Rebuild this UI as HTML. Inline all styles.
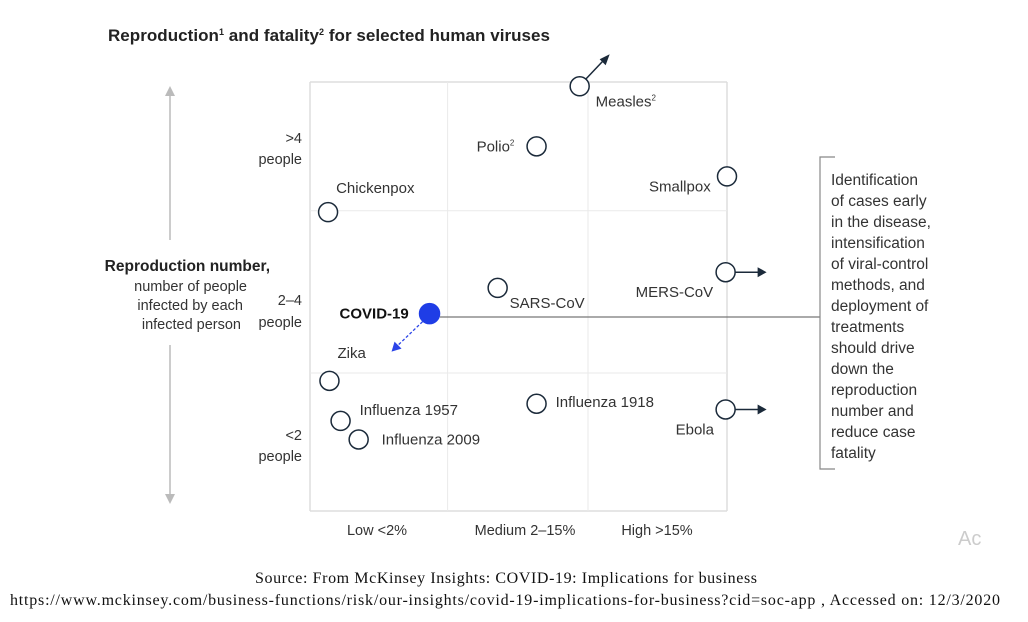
<!DOCTYPE html>
<html><head><meta charset="utf-8"><style>
body{margin:0;background:#fff;width:1028px;height:617px;overflow:hidden}
svg text{font-family:"Liberation Sans",sans-serif}
svg text.serif{font-family:"Liberation Serif",serif}
</style></head><body>
<svg width="1028" height="617">
<text x="108" y="41" font-size="17" font-weight="bold" fill="#222" textLength="442">Reproduction<tspan font-size="9" dy="-6">1</tspan><tspan dy="6"> and fatality</tspan><tspan font-size="9" dy="-6">2</tspan><tspan dy="6"> for selected human viruses</tspan></text>
<g id="grid"></g>
<line x1="170" y1="95" x2="170" y2="240" stroke="#bbb" stroke-width="1.5"/>
<polygon points="165,96 175,96 170,86" fill="#bbb"/>
<line x1="170" y1="345" x2="170" y2="495" stroke="#bbb" stroke-width="1.5"/>
<polygon points="165,494 175,494 170,504" fill="#bbb"/>
<g font-size="14.5" fill="#333" text-anchor="end">
<text x="270" y="271" font-weight="bold" fill="#222" font-size="15.5">Reproduction number,</text>
<text x="247" y="291">number of people</text>
<text x="243" y="310">infected by each</text>
<text x="241" y="329">infected person</text>
</g>
<g font-size="14.5" fill="#333" text-anchor="end">
<text x="302" y="143">&gt;4</text><text x="302" y="164">people</text>
<text x="302" y="305">2–4</text><text x="302" y="327">people</text>
<text x="302" y="440">&lt;2</text><text x="302" y="461">people</text>
</g>
<g font-size="14.5" fill="#333" text-anchor="middle">
<text x="377" y="535">Low &lt;2%</text><text x="525" y="535">Medium 2–15%</text><text x="657" y="535">High &gt;15%</text>
</g>
<line x1="440" y1="317" x2="820" y2="317" stroke="#777" stroke-width="1.3"/>
<polyline points="835,157 820,157 820,469 835,469" fill="none" stroke="#888" stroke-width="1.2"/>
<g font-size="15.5" fill="#333">
<text x="831" y="185">Identification</text><text x="831" y="206">of cases early</text><text x="831" y="227">in the disease,</text><text x="831" y="248">intensification</text><text x="831" y="269">of viral-control</text><text x="831" y="290">methods, and</text><text x="831" y="311">deployment of</text><text x="831" y="332">treatments</text><text x="831" y="353">should drive</text><text x="831" y="374">down the</text><text x="831" y="395">reproduction</text><text x="831" y="416">number and</text><text x="831" y="437">reduce case</text><text x="831" y="458">fatality</text>
</g>
<g id="marks"></g>
<text x="958" y="545" font-size="20" fill="#ccc">Ac</text>
<g font-size="16" fill="#111">
<text class="serif" x="255" y="583" textLength="502">Source: From McKinsey Insights: COVID-19: Implications for business</text>
<text class="serif" x="10" y="605" textLength="990">https://www.mckinsey.com/business-functions/risk/our-insights/covid-19-implications-for-business?cid=soc-app , Accessed on: 12/3/2020</text>
</g>
</svg>
<script>
const names=["Measles","Polio","Smallpox","Chickenpox","MERS-CoV","SARS-CoV","COVID-19","Zika","Influenza 1957","Influenza 2009","Influenza 1918","Ebola"];
const fatality=[1.94,1.63,3.0,0.13,2.99,1.35,0.86,0.14,0.22,0.35,1.63,2.99];
const reproduction=[2.97,2.55,2.34,2.09,1.67,1.56,1.38,0.91,0.63,0.50,0.75,0.71];
const labelDx=[16,-60,-78,8,-90,12,-90,8,19,23,19,-50];
const labelDy=[20,5,15,-19,25,20,5,-23,-6,5,3,25];
const arrows=["ne","","","","e","","sw","","","","","e"];
const X0=310,X1=727,Y0=511,Y1=82;
const xs=v=>X0+(X1-X0)*v/3, ys=v=>Y0-(Y0-Y1)*v/3;
const NS="http://www.w3.org/2000/svg";
const grid=document.getElementById('grid');
function ln(p,x1,y1,x2,y2,c,w,dash){const l=document.createElementNS(NS,'line');l.setAttribute('x1',x1);l.setAttribute('y1',y1);l.setAttribute('x2',x2);l.setAttribute('y2',y2);l.setAttribute('stroke',c);l.setAttribute('stroke-width',w);if(dash)l.setAttribute('stroke-dasharray',dash);p.appendChild(l);return l;}
[0,3].forEach(v=>{let l=ln(grid,xs(v),Y1,xs(v),Y0,'#ddd',1.5);

});
[0,3].forEach(v=>{let l=ln(grid,X0,ys(v),X1,ys(v),'#ddd',1.5);

});
[0.99,2.0].forEach(v=>{let l=ln(grid,xs(v),Y1,xs(v),Y0,'#eaeaea',1);

});
[0.965,2.1].forEach(v=>{let l=ln(grid,X0,ys(v),X1,ys(v),'#eaeaea',1);

});
const marks=document.getElementById('marks');
names.forEach((n,i)=>{
 const cx=xs(fatality[i]),cy=ys(reproduction[i]);const covid=n==="COVID-19";
 const g=document.createElementNS(NS,'g');
 
 
 const a=arrows[i];
 if(a==="e"){ln(g,cx+9,cy,cx+33,cy,'#1b2a3a',1.5);const p=document.createElementNS(NS,'polygon');p.setAttribute('points',`${cx+32},${cy-5} ${cx+41},${cy} ${cx+32},${cy+5}`);p.setAttribute('fill','#1b2a3a');g.appendChild(p);}
 if(a==="ne"){ln(g,cx+6,cy-7,cx+24,cy-26,'#1b2a3a',1.5);const p=document.createElementNS(NS,'polygon');p.setAttribute('points',`${cx+30},${cy-32} ${cx+20},${cy-27} ${cx+26},${cy-21}`);p.setAttribute('fill','#1b2a3a');g.appendChild(p);}
 if(a==="sw"){ln(g,cx-7,cy+8,cx-32,cy+32,'#2b44e8',1.3,'3,2');const p=document.createElementNS(NS,'polygon');p.setAttribute('points',`${cx-38},${cy+38} ${cx-35},${cy+28} ${cx-28},${cy+35}`);p.setAttribute('fill','#2b44e8');g.appendChild(p);}
 const c=document.createElementNS(NS,'circle');c.setAttribute('cx',cx);c.setAttribute('cy',cy);c.setAttribute('r',covid?10:9.5);
 c.setAttribute('fill',covid?'#1f3de6':'#fff');c.setAttribute('stroke',covid?'#1f3de6':'#1b2a3a');c.setAttribute('stroke-width',1.5);g.appendChild(c);
 const t=document.createElementNS(NS,'text');t.setAttribute('x',cx+labelDx[i]);t.setAttribute('y',cy+labelDy[i]);t.setAttribute('font-size',covid?15:15);
 t.setAttribute('fill',covid?'#111':'#333');if(covid)t.setAttribute('font-weight','bold');
 if(n==="Measles"||n==="Polio"){t.textContent=n;const s=document.createElementNS(NS,'tspan');s.setAttribute('font-size','8');s.setAttribute('dy','-6');s.textContent='2';t.appendChild(s);}else t.textContent=n;
 g.appendChild(t);marks.appendChild(g);
});
</script>
</body></html>
